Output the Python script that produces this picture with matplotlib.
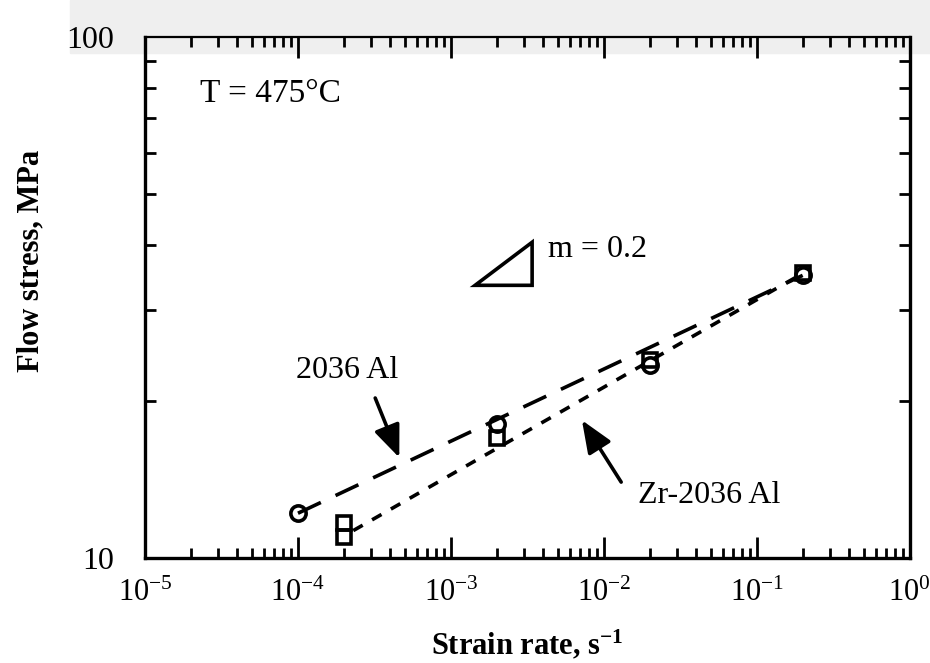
import matplotlib.pyplot as plt
from matplotlib.patches import Polygon, Rectangle
from matplotlib.ticker import LogLocator, FixedLocator, NullFormatter

plt.rcParams['font.family'] = ['Liberation Serif', 'DejaVu Serif']
plt.rcParams['mathtext.fontset'] = 'custom'
plt.rcParams['mathtext.rm'] = 'Liberation Serif'

# measured points
rate_2036 = [1e-4, 2e-3, 2e-2, 2e-1]
stress_2036 = [12.2, 18.1, 23.5, 34.9]
rate_zr = [2e-4, 2e-4, 2e-3, 2e-2, 2e-1]
stress_zr = [11.7, 11.0, 17.0, 24.0, 35.2]

# fitted lines (end points)
fit_rate_2036 = [1e-4, 2e-1]
fit_stress_2036 = [12.2, 34.9]
fit_rate_zr = [2.3e-4, 2e-1]
fit_stress_zr = [11.3, 35.2]

xticks = [1e-5, 1e-4, 1e-3, 1e-2, 1e-1, 1e0]
xlabels = [r'$\mathregular{10^{-5}}$', r'$\mathregular{10^{-4}}$', r'$\mathregular{10^{-3}}$',
           r'$\mathregular{10^{-2}}$', r'$\mathregular{10^{-1}}$', r'$\mathregular{10^{0}}$']
yticks = [10, 100]
yminor = [20, 30, 40, 50, 60, 70, 80, 90]

fig = plt.figure(figsize=(9.3, 6.63), dpi=100)
# light grey scan band at the top
band = Rectangle((0.075, 0.92), 0.93, 0.08, transform=fig.transFigure,
                 color='#efefef', zorder=-5)
fig.add_artist(band)
ax = fig.add_axes([0.156, 0.158, 0.822, 0.786])
ax.patch.set_alpha(0)

ax.plot(fit_rate_2036, fit_stress_2036, color='black', lw=2.6, dashes=(7, 4.5))
ax.plot(fit_rate_zr, fit_stress_zr, color='black', lw=2.6, dashes=(3, 3))
ax.plot(rate_2036, stress_2036, 'o', ms=11, mfc='none', mec='black', mew=2.6)
ax.plot(rate_zr, stress_zr, 's', ms=10, mfc='none', mec='black', mew=2.6)

ax.set_xscale('log')
ax.set_yscale('log')
ax.set_xlim(1e-5, 1)
ax.set_ylim(10, 100)

ax.set_xticks(xticks)
ax.set_xticklabels(xlabels, fontsize=22)
ax.xaxis.set_minor_locator(LogLocator(base=10, subs=range(2, 10), numticks=20))
ax.xaxis.set_minor_formatter(NullFormatter())
ax.set_yticks(yticks)
ax.set_yticklabels(['10', '100'], fontsize=23)
ax.yaxis.set_minor_locator(FixedLocator(yminor))
ax.yaxis.set_minor_formatter(NullFormatter())

ax.tick_params(which='both', direction='in', top=True, right=True, width=2, color='black')
ax.tick_params(axis='x', which='major', length=15, pad=15)
ax.tick_params(axis='x', which='minor', length=7)
ax.tick_params(axis='y', which='major', length=0, pad=22)
ax.tick_params(axis='y', which='minor', length=8)
for s in ax.spines.values():
    s.set_linewidth(2.4)
ax.spines['top'].set_linewidth(1.6)

ax.set_xlabel('Strain rate, s$\\mathregular{^{-1}}$', fontsize=22, fontweight='bold', labelpad=14)
ax.set_ylabel('Flow stress, MPa', fontsize=22, fontweight='bold', labelpad=24)
ax.yaxis.set_label_coords(-0.13, 0.57)

ax.text(2.3e-5, 78, 'T = 475°C', fontsize=24, va='center', ha='left')

# slope triangle
tri = Polygon([(1.44e-3, 33.4), (3.4e-3, 33.4), (3.4e-3, 40.4)], closed=True,
              fill=False, edgecolor='black', lw=2.6)
ax.add_patch(tri)
ax.text(4.3e-3, 39.2, 'm = 0.2', fontsize=23, va='center', ha='left')

arrow = dict(arrowstyle='-|>,head_length=1.1,head_width=0.45', color='black', lw=2.6,
             shrinkA=0, shrinkB=0, mutation_scale=18)
ax.text(2.1e-4, 22.9, '2036 Al', fontsize=23, ha='center', va='center')
ax.annotate('', xy=(4.6e-4, 15.6), xytext=(3.2e-4, 20.3), arrowprops=arrow)
ax.text(4.9e-2, 13.2, 'Zr-2036 Al', fontsize=23, ha='center', va='center')
ax.annotate('', xy=(7.2e-3, 18.4), xytext=(1.3e-2, 14.0), arrowprops=arrow)

fig.savefig('out.png', dpi=100)
